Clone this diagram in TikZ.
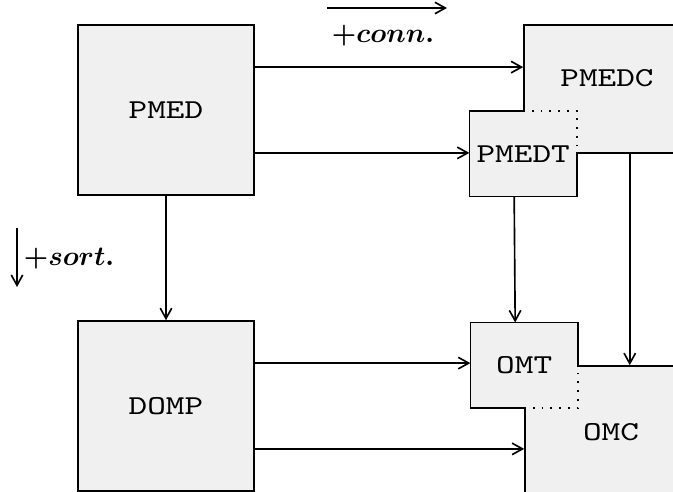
\documentclass[tikz,border=0pt]{standalone}
\usepackage{bm}
\usepackage{fontspec}
\setmonofont[FakeStretch=1.3]{lmmono10-regular.otf}
\usetikzlibrary{calc,arrows.meta}

\begin{document}
\begin{tikzpicture}[x=0.366pt,y=-0.366pt,>={Straight Barb[length=3.8pt,width=4.2pt]},semithick,
    box/.style={shape=rectangle,fill=gray!12,font=\ttfamily,inner sep=0pt},
    bigbox/.style={box,draw=black,minimum width=64.4pt,minimum height=62.2pt},
    smallbox/.style={box,minimum width=38.8pt,minimum height=30.7pt},
    dots/.style={dash pattern=on 0.6pt off 2.6pt}]
    \useasboundingbox (0,0) rectangle (673,492);
    \clip (0,0) rectangle (673,492);
    \node[bigbox] (pmed) at (166,110) {PMED};
    \node[bigbox] (domp) at (166,406) {DOMP};
    \node[bigbox,minimum height=46.8pt] (pmedc) at (612,89) {};
    \node[font=\ttfamily] (pmedcname) at (607,78) {PMEDC};
    \node[bigbox] (omc) at (613,451) {};
    \node[font=\ttfamily] (omcname) at (611,432) {OMC};
    \node[smallbox] (pmedt) at (pmedc.south west) {PMEDT};
    \node[smallbox] (omt) at (omc.north west) {OMT};
    \draw (pmedc.west |- pmedt.north) -- (pmedt.north west) -- (pmedt.south west)
        -- (pmedt.south east) -- (pmedc.south -| pmedt.east);
    \draw[dots] (pmedc.west |- pmedt.north) -- (pmedt.north east) -- (pmedt.east |- pmedc.south);
    \draw (omc.west |- omt.south) -- (omt.south west) -- (omt.north west)
        -- (omt.north east) -- (omt.east |- omc.north);
    \draw[dots] (omc.west |- omt.south) -- (omt.south east) -- (omt.east |- omc.north);
    \coordinate (pmed1) at ($(pmed.north east)!0.25!(pmed.south east)$);
    \coordinate (pmed2) at ($(pmed.north east)!0.75!(pmed.south east)$);
    \coordinate (domp1) at ($(domp.north east)!0.25!(domp.south east)$);
    \coordinate (domp2) at ($(domp.north east)!0.75!(domp.south east)$);
    \coordinate (pmedc1) at ($(pmedc.south west)!0.6!(pmedc.south east)$);
    \draw[->] (pmed1) -- (pmed1 -| pmedc.west);
    \draw[->] (pmed2) -- (pmed2 -| pmedt.west);
    \draw[->] (domp1) -- (domp1 -| omt.west);
    \draw[->] (domp2) -- (domp2 -| omc.west);
    \draw[->] (pmed) -- (domp);
    \draw[->] ([xshift=-3.3pt]pmedt.south) -- ([xshift=-3.3pt]omt.north);
    \draw[->] (pmedc1) -- (pmedc1 |- omc.north);
    % labels
    \coordinate (conn0) at (327,8);
    \coordinate (conn1) at (447,8);
    \draw[->] (conn0) -- (conn1);
    \node[anchor=base] (connlabel) at (383,42) {$\bm{+conn.}$};
    \coordinate (sort0) at (17,228);
    \coordinate (sort1) at (17,287);
    \draw[->] (sort0) -- (sort1);
    \node[anchor=base] (sortlabel) at (69,265) {$\bm{+sort.}$};
\end{tikzpicture}
\end{document}
